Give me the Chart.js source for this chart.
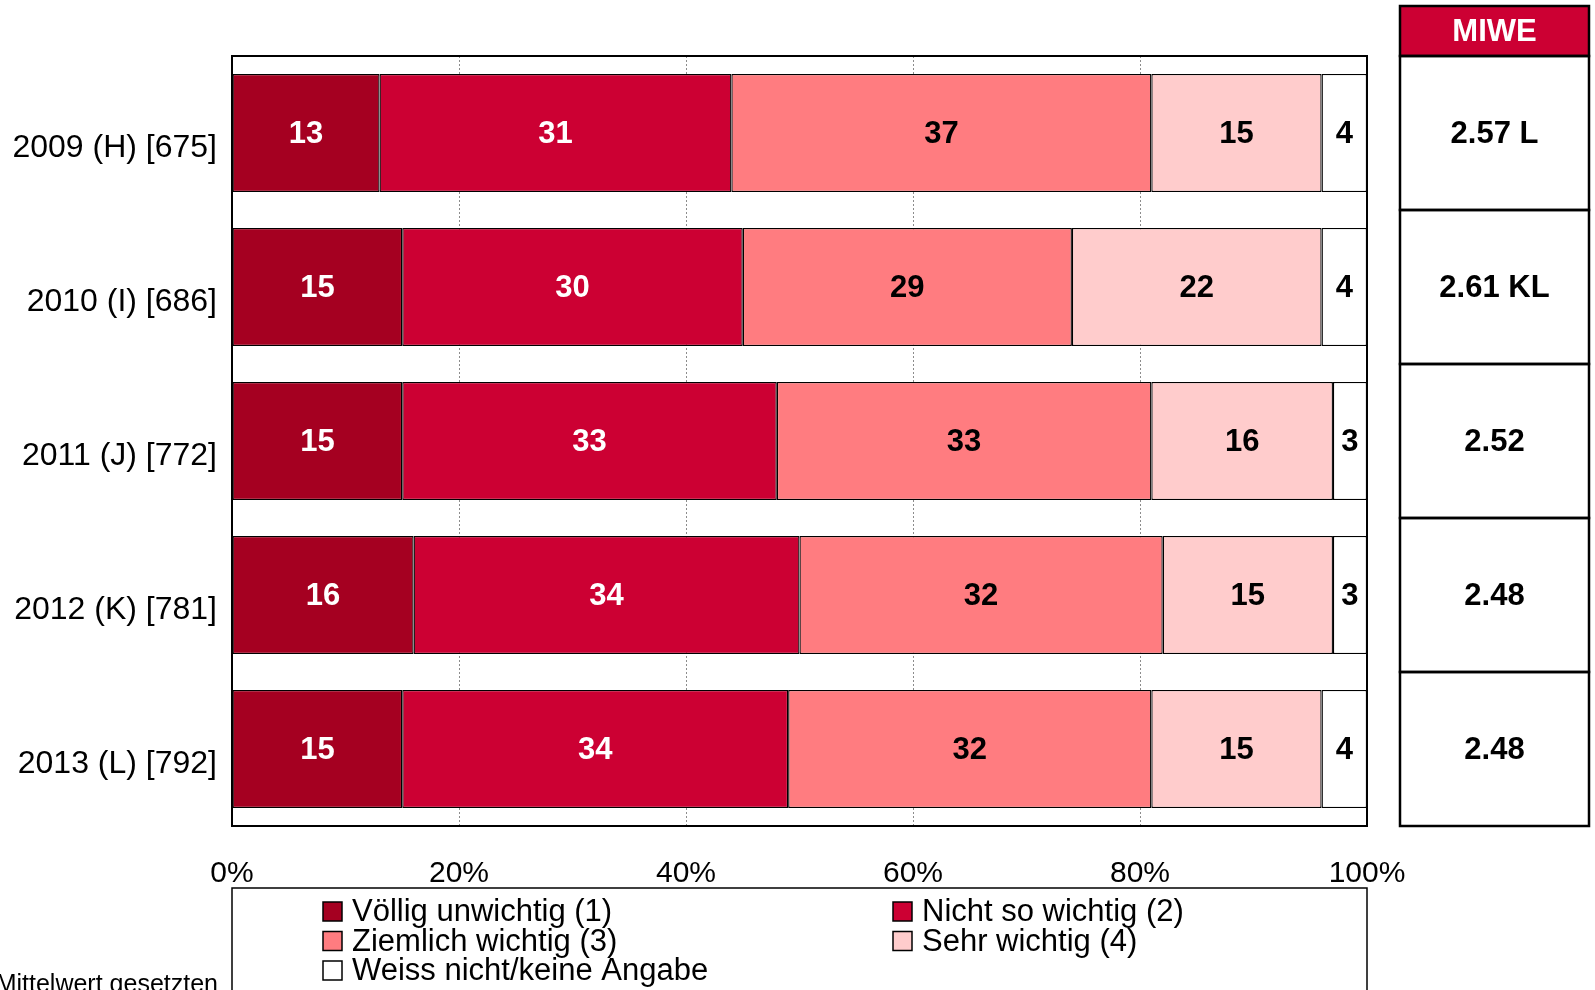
<!DOCTYPE html>
<html>
<head>
<meta charset="utf-8">
<script src="https://cdn.jsdelivr.net/npm/chart.js@4.4.1/dist/chart.umd.min.js"></script>
<style>
  html, body { margin: 0; padding: 0; background: #ffffff; }
  canvas { display: block; }
</style>
</head>
<body>
<canvas id="miwe-chart" width="1595" height="990"></canvas>
<script>
// Categories (survey waves)
const years = ["2009 (H) [675]", "2010 (I) [686]", "2011 (J) [772]", "2012 (K) [781]", "2013 (L) [792]"];

// Series values in percent
const voellig = [13, 15, 15, 16, 15];
const nichtSo = [31, 30, 33, 34, 34];
const ziemlich = [37, 29, 33, 32, 32];
const sehr = [15, 22, 16, 15, 15];
const weissNicht = [4, 4, 3, 3, 4];

// Mean values shown in the right panel
const miweValues = ["2.57 L", "2.61 KL", "2.52", "2.48", "2.48"];
const miweTitle = "MIWE";

const seriesLabels = ["Völlig unwichtig (1)", "Nicht so wichtig (2)", "Ziemlich wichtig (3)", "Sehr wichtig (4)", "Weiss nicht/keine Angabe"];
const seriesColors = ["#A50021", "#CC0033", "#FF7C80", "#FFCCCC", "#FFFFFF"];
const labelColors = ["#FFFFFF", "#FFFFFF", "#000000", "#000000", "#000000"];
const footnote = "Mittelwert gesetzten";

const FONT = "'Liberation Sans', Arial, sans-serif";

// Data for the stacked bar chart
const dataBarChart = {
  labels: years,
  datasets: [voellig, nichtSo, ziemlich, sehr, weissNicht].map(function (values, i) {
    return {
      label: seriesLabels[i],
      data: values,
      backgroundColor: seriesColors[i],
      borderColor: "#000000",
      borderWidth: 1.3,
      borderSkipped: false,
      barPercentage: 0.766,
      categoryPercentage: 1.0,
    };
  }),
};

// Draws value labels, plot frame, MIWE panel, legend and footnote
const extrasPlugin = {
  id: "extras",
  afterDatasetsDraw(chart) {
    const ctx = chart.ctx;
    ctx.save();
    ctx.font = "bold 31px " + FONT;
    ctx.textAlign = "center";
    ctx.textBaseline = "middle";
    chart.data.datasets.forEach(function (ds, i) {
      const meta = chart.getDatasetMeta(i);
      meta.data.forEach(function (bar, j) {
        const p = bar.getCenterPoint();
        ctx.fillStyle = labelColors[i];
        ctx.fillText(String(ds.data[j]), p.x, p.y + 1);
      });
    });
    ctx.restore();
  },
  afterDraw(chart) {
    const ctx = chart.ctx;
    const area = chart.chartArea;
    const yScale = chart.scales.y;
    ctx.save();

    // plot frame
    ctx.strokeStyle = "#000000";
    ctx.lineWidth = 2;
    ctx.strokeRect(area.left, area.top, area.right - area.left, area.bottom - area.top);

    // MIWE panel
    const pl = 1400, pr = 1589;
    const half = (yScale.getPixelForValue(1) - yScale.getPixelForValue(0)) / 2;
    const headTop = 6;
    const headBottom = yScale.getPixelForValue(0) - half;
    ctx.fillStyle = "#CC0033";
    ctx.fillRect(pl, headTop, pr - pl, headBottom - headTop);
    ctx.lineWidth = 2.5;
    ctx.strokeStyle = "#000000";
    ctx.strokeRect(pl, headTop, pr - pl, headBottom - headTop);
    ctx.fillStyle = "#FFFFFF";
    ctx.font = "bold 31px " + FONT;
    ctx.textAlign = "center";
    ctx.textBaseline = "middle";
    ctx.fillText(miweTitle, (pl + pr) / 2, (headTop + headBottom) / 2 + 1);
    miweValues.forEach(function (v, i) {
      const cy = yScale.getPixelForValue(i);
      ctx.strokeRect(pl, cy - half, pr - pl, half * 2);
      ctx.fillStyle = "#000000";
      ctx.fillText(v, (pl + pr) / 2, cy + 1);
    });

    // legend box
    ctx.lineWidth = 1.5;
    ctx.strokeRect(area.left, 888, area.right - area.left, 200);
    const cols = [323, 893];
    const rowTop = 902, rowStep = 29.5, box = 19;
    ctx.font = "31px " + FONT;
    ctx.textAlign = "left";
    chart.data.datasets.forEach(function (ds, i) {
      const x = cols[i % 2];
      const y = rowTop + Math.floor(i / 2) * rowStep;
      ctx.fillStyle = ds.backgroundColor;
      ctx.fillRect(x, y, box, box);
      ctx.strokeStyle = "#000000";
      ctx.strokeRect(x, y, box, box);
      ctx.fillStyle = "#000000";
      ctx.fillText(ds.label, x + 29, y + box / 2 + 1);
    });

    // cut-off footnote at bottom left
    ctx.font = "25px " + FONT;
    ctx.textAlign = "right";
    ctx.textBaseline = "alphabetic";
    ctx.fillText(footnote, 218, 992);
    ctx.restore();
  },
};

// Config for the chart
const configBarChart = {
  type: "bar",
  data: dataBarChart,
  plugins: [extrasPlugin],
  options: {
    indexAxis: "y",
    responsive: false,
    animation: false,
    devicePixelRatio: 1,
    layout: { padding: { top: 56, right: 228, left: 0, bottom: 0 } },
    plugins: {
      legend: { display: false },
      tooltip: { enabled: false },
    },
    scales: {
      x: {
        stacked: true,
        min: 0,
        max: 100,
        ticks: {
          stepSize: 20,
          padding: 30,
          color: "#000000",
          font: { family: FONT, size: 30 },
          callback: function (v) { return v + "%"; },
        },
        grid: { color: "#8C8C8C", lineWidth: 1, drawTicks: false },
        border: { display: false, dash: [2, 2] },
        afterFit: function (scale) { scale.height = 164; },
      },
      y: {
        stacked: true,
        ticks: {
          padding: 15,
          labelOffset: 15,
          color: "#000000",
          font: { family: FONT, size: 32 },
        },
        grid: { display: false, drawTicks: false },
        border: { display: false },
        afterFit: function (scale) { scale.width = 232; },
      },
    },
  },
};

// Instantiate the chart
let miweChart = new Chart(document.getElementById("miwe-chart"), configBarChart);
</script>
</body>
</html>
